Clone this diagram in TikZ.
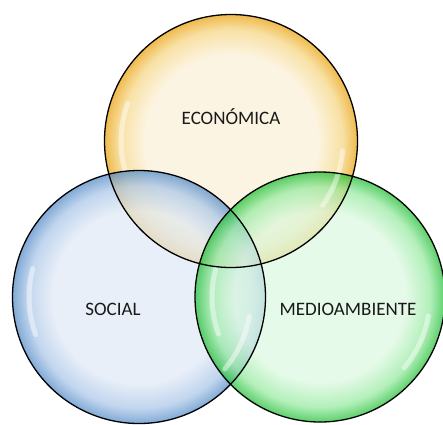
\documentclass[tikz,border=0pt]{standalone}
\usepackage{fontspec}
\setmainfont{Carlito}
\definecolor{yin}{RGB}{252,241,216}
\definecolor{ymid}{RGB}{246,214,130}
\definecolor{yout}{RGB}{234,160,10}
\definecolor{bin}{RGB}{225,234,246}
\definecolor{bmid}{RGB}{170,198,232}
\definecolor{bout}{RGB}{82,138,199}
\definecolor{gin}{RGB}{221,249,225}
\definecolor{gmid}{RGB}{150,234,160}
\definecolor{gout}{RGB}{30,190,50}
\definecolor{txt}{RGB}{25,25,25}
\pgfdeclareradialshading{ybub}{\pgfpoint{0bp}{0bp}}{color(0bp)=(yin); color(17bp)=(yin); color(22bp)=(ymid); color(25bp)=(yout); color(50bp)=(yout)}
\pgfdeclareradialshading{bbub}{\pgfpoint{0bp}{0bp}}{color(0bp)=(bin); color(17bp)=(bin); color(22bp)=(bmid); color(25bp)=(bout); color(50bp)=(bout)}
\pgfdeclareradialshading{gbub}{\pgfpoint{0bp}{0bp}}{color(0bp)=(gin); color(17bp)=(gin); color(22bp)=(gmid); color(25bp)=(gout); color(50bp)=(gout)}
\begin{document}
\begin{tikzpicture}[x=1pt,y=-1pt,
  bubble/.style={opacity=0.72},
  rim/.style={draw=black, line width=1.3pt},
  gloss/.style={draw=white, line width=5pt, line cap=round, opacity=0.45},
  lbl/.style={font=\fontsize{19}{21}\selectfont, text=txt, inner sep=0pt}]
\fill[white] (0,0) rectangle (443,424);
\useasboundingbox (0,0) rectangle (443,424);
\clip (0,0) rectangle (443,424);
\coordinate (ce) at (231,141);
\coordinate (cs) at (139,297);
\coordinate (cm) at (320,297);
% fills
\shade[bubble, shading=ybub] (ce) circle[radius=126.5];
\shade[bubble, shading=bbub] (cs) circle[radius=126.5];
\shade[bubble, shading=gbub] (cm) circle[radius=125];
% gloss highlights
\draw[gloss] (ce) ++(165:110) arc[start angle=165, end angle=200, radius=110];
\draw[gloss] (ce) ++(5:112) arc[start angle=5, end angle=35, radius=112];
\draw[gloss] (cs) ++(160:110) arc[start angle=160, end angle=195, radius=110];
\draw[gloss] (cs) ++(10:112) arc[start angle=10, end angle=40, radius=112];
\draw[gloss] (cm) ++(160:108) arc[start angle=160, end angle=195, radius=108];
\draw[gloss] (cm) ++(10:110) arc[start angle=10, end angle=40, radius=110];
% outlines
\draw[rim] (ce) circle[radius=126.5];
\draw[rim] (cs) circle[radius=126.5];
\draw[rim] (cm) circle[radius=125];
% labels
\node[lbl] (eco) at (231,117) {ECONÓMICA};
\node[lbl] (soc) at (113,309) {SOCIAL};
\node[lbl] (med) at (348,309) {MEDIOAMBIENTE};
\end{tikzpicture}
\end{document}
